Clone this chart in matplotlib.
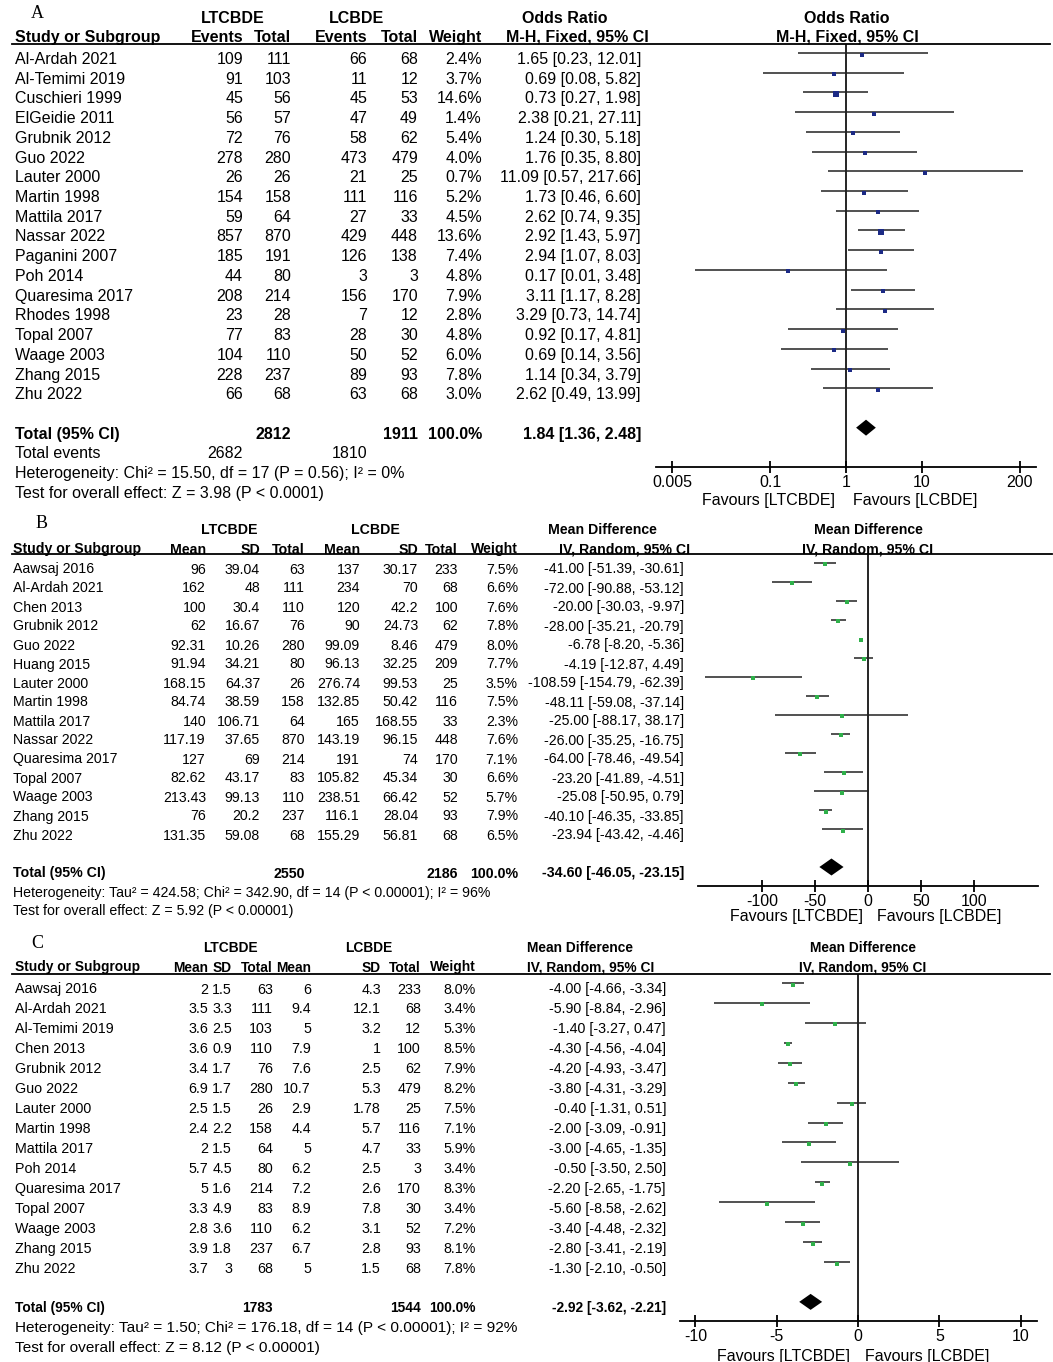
import matplotlib
matplotlib.use("Agg")
import matplotlib.pyplot as plt
from matplotlib.ticker import NullLocator

# ---- panel A: odds ratio (LTCBDE vs LCBDE) ----
studies_a = ['Al-Ardah 2021', 'Al-Temimi 2019', 'Cuschieri 1999', 'ElGeidie 2011', 'Grubnik 2012',
             'Guo 2022', 'Lauter 2000', 'Martin 1998', 'Mattila 2017', 'Nassar 2022', 'Paganini 2007',
             'Poh 2014', 'Quaresima 2017', 'Rhodes 1998', 'Topal 2007', 'Waage 2003', 'Zhang 2015', 'Zhu 2022']
ev_lt_a = [109, 91, 45, 56, 72, 278, 26, 154, 59, 857, 185, 44, 208, 23, 77, 104, 228, 66]
tot_lt_a = [111, 103, 56, 57, 76, 280, 26, 158, 64, 870, 191, 80, 214, 28, 83, 110, 237, 68]
ev_lc_a = [66, 11, 45, 47, 58, 473, 21, 111, 27, 429, 126, 3, 156, 7, 28, 50, 89, 63]
tot_lc_a = [68, 12, 53, 49, 62, 479, 25, 116, 33, 448, 138, 3, 170, 12, 30, 52, 93, 68]
wt_a = [2.4, 3.7, 14.6, 1.4, 5.4, 4.0, 0.7, 5.2, 4.5, 13.6, 7.4, 4.8, 7.9, 2.8, 4.8, 6.0, 7.8, 3.0]
or_a = [1.65, 0.69, 0.73, 2.38, 1.24, 1.76, 11.09, 1.73, 2.62, 2.92, 2.94, 0.17, 3.11, 3.29, 0.92, 0.69, 1.14, 2.62]
lo_a = [0.23, 0.08, 0.27, 0.21, 0.30, 0.35, 0.57, 0.46, 0.74, 1.43, 1.07, 0.01, 1.17, 0.73, 0.17, 0.14, 0.34, 0.49]
hi_a = [12.01, 5.82, 1.98, 27.11, 5.18, 8.80, 217.66, 6.60, 9.35, 5.97, 8.03, 3.48, 8.28, 14.74, 4.81, 3.56, 3.79, 13.99]
total_a = dict(n_lt=2812, n_lc=1911, ev_lt=2682, ev_lc=1810, est=1.84, lo=1.36, hi=2.48)
het_a = 'Heterogeneity: Chi² = 15.50, df = 17 (P = 0.56); I² = 0%'
test_a = 'Test for overall effect: Z = 3.98 (P < 0.0001)'
ticks_a = [0.005, 0.1, 1, 10, 200]
ticklabels_a = ['0.005', '0.1', '1', '10', '200']

# ---- panel B: mean difference ----
studies_b = ['Aawsaj 2016', 'Al-Ardah 2021', 'Chen 2013', 'Grubnik 2012', 'Guo 2022', 'Huang 2015',
             'Lauter 2000', 'Martin 1998', 'Mattila 2017', 'Nassar 2022', 'Quaresima 2017', 'Topal 2007',
             'Waage 2003', 'Zhang 2015', 'Zhu 2022']
mean_lt_b = [96, 162, 100, 62, 92.31, 91.94, 168.15, 84.74, 140, 117.19, 127, 82.62, 213.43, 76, 131.35]
sd_lt_b = [39.04, 48, 30.4, 16.67, 10.26, 34.21, 64.37, 38.59, 106.71, 37.65, 69, 43.17, 99.13, 20.2, 59.08]
n_lt_b = [63, 111, 110, 76, 280, 80, 26, 158, 64, 870, 214, 83, 110, 237, 68]
mean_lc_b = [137, 234, 120, 90, 99.09, 96.13, 276.74, 132.85, 165, 143.19, 191, 105.82, 238.51, 116.1, 155.29]
sd_lc_b = [30.17, 70, 42.2, 24.73, 8.46, 32.25, 99.53, 50.42, 168.55, 96.15, 74, 45.34, 66.42, 28.04, 56.81]
n_lc_b = [233, 68, 100, 62, 479, 209, 25, 116, 33, 448, 170, 30, 52, 93, 68]
wt_b = [7.5, 6.6, 7.6, 7.8, 8.0, 7.7, 3.5, 7.5, 2.3, 7.6, 7.1, 6.6, 5.7, 7.9, 6.5]
md_b = [-41.00, -72.00, -20.00, -28.00, -6.78, -4.19, -108.59, -48.11, -25.00, -26.00, -64.00, -23.20, -25.08, -40.10, -23.94]
lo_b = [-51.39, -90.88, -30.03, -35.21, -8.20, -12.87, -154.79, -59.08, -88.17, -35.25, -78.46, -41.89, -50.95, -46.35, -43.42]
hi_b = [-30.61, -53.12, -9.97, -20.79, -5.36, 4.49, -62.39, -37.14, 38.17, -16.75, -49.54, -4.51, 0.79, -33.85, -4.46]
total_b = dict(n_lt=2550, n_lc=2186, est=-34.60, lo=-46.05, hi=-23.15)
het_b = 'Heterogeneity: Tau² = 424.58; Chi² = 342.90, df = 14 (P < 0.00001); I² = 96%'
test_b = 'Test for overall effect: Z = 5.92 (P < 0.00001)'
ticks_b = [-100, -50, 0, 50, 100]

# ---- panel C: mean difference ----
studies_c = ['Aawsaj 2016', 'Al-Ardah 2021', 'Al-Temimi 2019', 'Chen 2013', 'Grubnik 2012', 'Guo 2022',
             'Lauter 2000', 'Martin 1998', 'Mattila 2017', 'Poh 2014', 'Quaresima 2017', 'Topal 2007',
             'Waage 2003', 'Zhang 2015', 'Zhu 2022']
mean_lt_c = [2, 3.5, 3.6, 3.6, 3.4, 6.9, 2.5, 2.4, 2, 5.7, 5, 3.3, 2.8, 3.9, 3.7]
sd_lt_c = [1.5, 3.3, 2.5, 0.9, 1.7, 1.7, 1.5, 2.2, 1.5, 4.5, 1.6, 4.9, 3.6, 1.8, 3]
n_lt_c = [63, 111, 103, 110, 76, 280, 26, 158, 64, 80, 214, 83, 110, 237, 68]
mean_lc_c = [6, 9.4, 5, 7.9, 7.6, 10.7, 2.9, 4.4, 5, 6.2, 7.2, 8.9, 6.2, 6.7, 5]
sd_lc_c = [4.3, 12.1, 3.2, 1, 2.5, 5.3, 1.78, 5.7, 4.7, 2.5, 2.6, 7.8, 3.1, 2.8, 1.5]
n_lc_c = [233, 68, 12, 100, 62, 479, 25, 116, 33, 3, 170, 30, 52, 93, 68]
wt_c = [8.0, 3.4, 5.3, 8.5, 7.9, 8.2, 7.5, 7.1, 5.9, 3.4, 8.3, 3.4, 7.2, 8.1, 7.8]
md_c = [-4.00, -5.90, -1.40, -4.30, -4.20, -3.80, -0.40, -2.00, -3.00, -0.50, -2.20, -5.60, -3.40, -2.80, -1.30]
lo_c = [-4.66, -8.84, -3.27, -4.56, -4.93, -4.31, -1.31, -3.09, -4.65, -3.50, -2.65, -8.58, -4.48, -3.41, -2.10]
hi_c = [-3.34, -2.96, 0.47, -4.04, -3.47, -3.29, 0.51, -0.91, -1.35, 2.50, -1.75, -2.62, -2.32, -2.19, -0.50]
total_c = dict(n_lt=1783, n_lc=1544, est=-2.92, lo=-3.62, hi=-2.21)
het_c = 'Heterogeneity: Tau² = 1.50; Chi² = 176.18, df = 14 (P < 0.00001); I² = 92%'
test_c = 'Test for overall effect: Z = 8.12 (P < 0.00001)'
ticks_c = [-10, -5, 0, 5, 10]

W, H = 1053, 1362
fig = plt.figure(figsize=(W / 100, H / 100), dpi=100)

SANS = 'Liberation Sans'
SERIF = 'Liberation Serif'
BLUE = '#1c2a85'
GREEN = '#2fb04a'
FS = 11.5

# canvas in pixel coords for the table part
cv = fig.add_axes([0, 0, 1, 1])
cv.set_xlim(0, W)
cv.set_ylim(H, 0)
cv.axis('off')


def put(x, y, s, ha='left', bold=False, family=SANS, size=FS):
    cv.text(x, y, s, ha=ha, va='center_baseline', fontsize=size, family=family,
            fontweight='bold' if bold else 'normal')


def ci_text(e, l, h):
    return f'{e:.2f} [{l:.2f}, {h:.2f}]'


def forest(left, right, top, bottom, xlim, y0, dy, null, xscale='linear'):
    ax = fig.add_axes([left / W, 1 - bottom / H, (right - left) / W, (bottom - top) / H])
    ax.set_xscale(xscale)
    ax.set_xlim(*xlim)
    ax.set_ylim((bottom - y0) / dy, (top - y0) / dy)
    ax.patch.set_alpha(0)
    for s in ['top', 'left', 'right']:
        ax.spines[s].set_visible(False)
    ax.spines['bottom'].set_linewidth(1.3)
    ax.set_yticks([])
    ax.xaxis.set_minor_locator(NullLocator())
    ax.tick_params(axis='x', direction='inout', length=9, width=1.3, pad=1.5, labelsize=FS)
    ax.axvline(null, color='black', lw=1.2)
    return ax


def draw_rows(ax, est, lo, hi, wt, dy, color, k, smin):
    for r, (e, l, h, w) in enumerate(zip(est, lo, hi, wt)):
        ax.plot([l, h], [r - 5 / dy, r - 5 / dy], color='#222222', lw=1.1, solid_capstyle='butt')
        ax.plot([e], [r - 3.5 / dy], marker='s', ms=max(smin, k * w ** 0.5), color=color, mec=color, mew=0)


def diamond(ax, est, lo, hi, r, half, dy):
    yc = r - 5 / dy
    ax.fill([lo, est, hi, est], [yc, yc - half, yc, yc + half], color='black', lw=0)


def favours(ax, null, dl, dr, dy_pt):
    for s, dx, ha in [('Favours [LTCBDE]', dl, 'right'), ('Favours [LCBDE]', dr, 'left')]:
        ax.annotate(s, xy=(null, 0), xycoords=('data', 'axes fraction'), xytext=(dx, dy_pt),
                    textcoords='offset points', ha=ha, va='center_baseline', fontsize=FS, family=SANS)


# ================= Panel A =================
y0a, dya = 58, 19.72
put(31, 12, 'A', family=SERIF, size=13)
put(233, 17, 'LTCBDE', ha='center', bold=True)
put(356, 17, 'LCBDE', ha='center', bold=True)
put(565, 17, 'Odds Ratio', ha='center', bold=True)
put(847, 17, 'Odds Ratio', ha='center', bold=True)
hy = 36
put(15, hy, 'Study or Subgroup', bold=True)
colx_a = [243, 291, 367, 418, 482]
for x, s in zip(colx_a, ['Events', 'Total', 'Events', 'Total', 'Weight']):
    put(x, hy, s, ha='right', bold=True)
put(649, hy, 'M-H, Fixed, 95% CI', ha='right', bold=True)
put(847, hy, 'M-H, Fixed, 95% CI', ha='center', bold=True)
cv.plot([12, 1050], [44, 44], color='black', lw=1.3)

for r, name in enumerate(studies_a):
    y = y0a + dya * r
    put(15, y, name)
    vals = [ev_lt_a[r], tot_lt_a[r], ev_lc_a[r], tot_lc_a[r]]
    for x, v in zip(colx_a[:4], vals):
        put(x, y, str(v), ha='right')
    put(colx_a[4], y, f'{wt_a[r]:.1f}%', ha='right')
    put(641, y, ci_text(or_a[r], lo_a[r], hi_a[r]), ha='right')

yt = y0a + dya * 19
put(15, yt, 'Total (95% CI)', bold=True)
put(colx_a[1], yt, str(total_a['n_lt']), ha='right', bold=True)
put(colx_a[3], yt, str(total_a['n_lc']), ha='right', bold=True)
put(colx_a[4], yt, '100.0%', ha='right', bold=True)
put(641, yt, ci_text(total_a['est'], total_a['lo'], total_a['hi']), ha='right', bold=True)
put(15, y0a + dya * 20, 'Total events')
put(colx_a[0], y0a + dya * 20, str(total_a['ev_lt']), ha='right')
put(colx_a[2], y0a + dya * 20, str(total_a['ev_lc']), ha='right')
put(15, y0a + dya * 21, het_a)
put(15, y0a + dya * 22, test_a)

axa = forest(656, 1036, 44, 467, (1 / 326, 326), y0a, dya, 1, xscale='log')
draw_rows(axa, or_a, lo_a, hi_a, wt_a, dya, BLUE, 1.25, 2.2)
diamond(axa, total_a['est'], total_a['lo'], total_a['hi'], 19, 8 / dya, dya)
axa.set_xticks(ticks_a)
axa.set_xticklabels(ticklabels_a, family=SANS, fontsize=FS)
favours(axa, 1, -8, 5, -23)

# ================= Panel B =================
FB = 10.2
y0b, dyb = 568, 19.0
put(36, 522, 'B', family=SERIF, size=13)
put(229, 529, 'LTCBDE', ha='center', bold=True, size=FB)
put(375, 529, 'LCBDE', ha='center', bold=True, size=FB)
put(602, 529, 'Mean Difference', ha='center', bold=True, size=FB)
put(868, 529, 'Mean Difference', ha='center', bold=True, size=FB)
hy = 548
put(13, hy, 'Study or Subgroup', bold=True, size=FB)
colx_b = [206, 260, 305, 360, 418, 458, 518]
for x, s in zip(colx_b, ['Mean', 'SD', 'Total', 'Mean', 'SD', 'Total', 'Weight']):
    put(x, hy, s, ha='right', bold=True, size=FB)
put(690, hy, 'IV, Random, 95% CI', ha='right', bold=True, size=FB)
put(868, hy, 'IV, Random, 95% CI', ha='center', bold=True, size=FB)
cv.plot([12, 1052], [554, 554], color='black', lw=1.3)

for r, name in enumerate(studies_b):
    y = y0b + dyb * r
    put(13, y, name, size=FB)
    vals = [mean_lt_b[r], sd_lt_b[r], n_lt_b[r], mean_lc_b[r], sd_lc_b[r], n_lc_b[r]]
    for x, v in zip(colx_b[:6], vals):
        put(x, y, str(v), ha='right', size=FB)
    put(colx_b[6], y, f'{wt_b[r]:.1f}%', ha='right', size=FB)
    put(684, y, ci_text(md_b[r], lo_b[r], hi_b[r]), ha='right', size=FB)

yt = y0b + dyb * 16
put(13, yt, 'Total (95% CI)', bold=True, size=FB)
put(colx_b[2], yt, str(total_b['n_lt']), ha='right', bold=True, size=FB)
put(colx_b[5], yt, str(total_b['n_lc']), ha='right', bold=True, size=FB)
put(colx_b[6], yt, '100.0%', ha='right', bold=True, size=FB)
put(684, yt, ci_text(total_b['est'], total_b['lo'], total_b['hi']), ha='right', bold=True, size=FB)
put(13, 891, het_b, size=10.2)
put(13, 910, test_b, size=10.2)

axb = forest(698, 1038, 554, 886, (-161, 161), y0b, dyb, 0)
draw_rows(axb, md_b, lo_b, hi_b, wt_b, dyb, GREEN, 1.15, 3.0)
diamond(axb, total_b['est'], total_b['lo'], total_b['hi'], 16, 8.5 / dyb, dyb)
axb.set_xticks(ticks_b)
axb.set_xticklabels([str(t) for t in ticks_b], family=SANS, fontsize=FS)
favours(axb, 0, -3.5, 6.5, -21)

# ================= Panel C =================
FC = 10.3
FCH = 9.9
y0c, dyc = 988, 19.93
put(31, 941, 'C', family=SERIF, size=13)
put(230, 946, 'LTCBDE', ha='center', bold=True, size=FCH)
put(369, 946, 'LCBDE', ha='center', bold=True, size=FCH)
put(527, 946, 'Mean Difference', bold=True, size=FCH)
put(863, 946, 'Mean Difference', ha='center', bold=True, size=FCH)
hy = 966
put(15, hy, 'Study or Subgroup', bold=True, size=FCH)
colx_c = [208, 232, 273, 311, 381, 421, 476]
for x, s in zip(colx_c, ['Mean', 'SD', 'Total', 'Mean', 'SD', 'Total', 'Weight']):
    put(x, hy, s, ha='right', bold=True, size=FCH)
put(527, hy, 'IV, Random, 95% CI', bold=True, size=FCH)
put(863, hy, 'IV, Random, 95% CI', ha='center', bold=True, size=FCH)
cv.plot([12, 1050], [974, 974], color='black', lw=1.3)

for r, name in enumerate(studies_c):
    y = y0c + dyc * r
    put(15, y, name, size=FC)
    vals = [mean_lt_c[r], sd_lt_c[r], n_lt_c[r], mean_lc_c[r], sd_lc_c[r], n_lc_c[r]]
    for x, v in zip(colx_c[:6], vals):
        put(x, y, str(v), ha='right', size=FC)
    put(colx_c[6], y, f'{wt_c[r]:.1f}%', ha='right', size=FC)
    put(666, y, ci_text(md_c[r], lo_c[r], hi_c[r]), ha='right', size=FC)

yt = y0c + dyc * 16
put(15, yt, 'Total (95% CI)', bold=True, size=FCH)
put(colx_c[2], yt, str(total_c['n_lt']), ha='right', bold=True, size=FCH)
put(colx_c[5], yt, str(total_c['n_lc']), ha='right', bold=True, size=FCH)
put(colx_c[6], yt, '100.0%', ha='right', bold=True, size=FCH)
put(666, yt, ci_text(total_c['est'], total_c['lo'], total_c['hi']), ha='right', bold=True, size=FCH)
put(15, y0c + dyc * 17, het_c, size=11.1)
put(15, y0c + dyc * 18, test_c, size=11.1)

axc = forest(680, 1037, 974, 1321, (-10.95, 11.0), y0c, dyc, 0)
draw_rows(axc, md_c, lo_c, hi_c, wt_c, dyc, GREEN, 1.15, 3.0)
diamond(axc, total_c['est'], total_c['lo'], total_c['hi'], 16, 8 / dyc, dyc)
axc.set_xticks(ticks_c)
axc.set_xticklabels([str(t) for t in ticks_c], family=SANS, fontsize=FS)
favours(axc, 0, -5.5, 5, -24.5)

fig.savefig('out.png', dpi=100)
